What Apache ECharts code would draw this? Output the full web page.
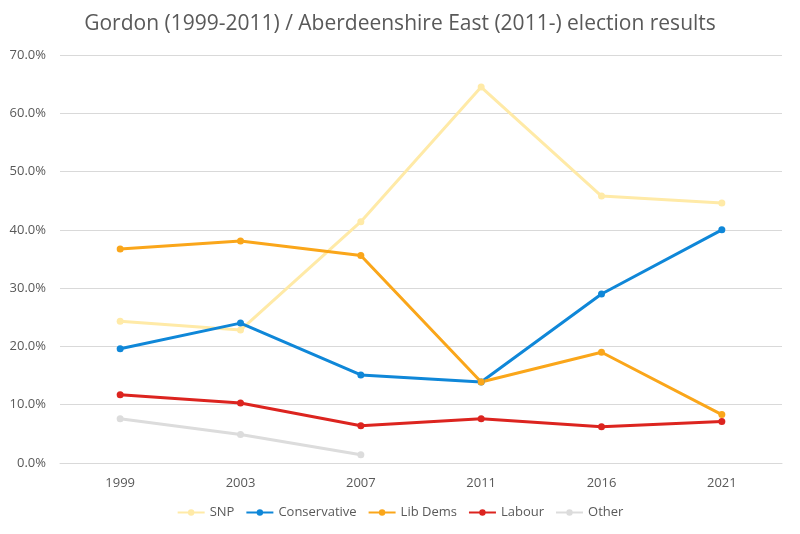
<!DOCTYPE html>
<html><head><meta charset="utf-8">
<script src="https://cdn.jsdelivr.net/npm/echarts@6/dist/echarts.min.js"></script>
<style>html,body{margin:0;padding:0;background:#fff}#c{width:800px;height:534px}</style>
</head><body><div id="c"></div>
<script>
const years = ['1999','2003','2007','2011','2016','2021'];
const snp = [24.3, 22.8, 41.4, 64.5, 45.8, 44.6];
const conservative = [19.6, 24.0, 15.1, 13.9, 29.0, 40.0];
const libDems = [36.7, 38.1, 35.6, 13.9, 19.0, 8.3];
const labour = [11.7, 10.3, 6.4, 7.6, 6.2, 7.1];
const other = [7.6, 4.9, 1.4, null, null, null];
const yTicks = [0, 10, 20, 30, 40, 50, 60, 70];

const font = '"Open Sans", "Liberation Sans", sans-serif';
function s(name, data, color) {
  return {name, type:'line', data, color, symbol:'circle', symbolSize:7,
    lineStyle:{width:3, color}, itemStyle:{color}, connectNulls:false};
}
const chart = echarts.init(document.getElementById('c'));
chart.setOption({
  animation:false,
  textStyle:{fontFamily:font},
  title:{text:'Gordon (1999-2011) / Aberdeenshire East (2011-) election results', left:'center', top:9,
    textStyle:{fontFamily:font, fontSize:21, fontWeight:'normal', color:'#595959'}},
  legend:{bottom:10, itemWidth:27, itemHeight:8, itemGap:11,
    textStyle:{fontFamily:font, fontSize:13, color:'#595959'},
    data:['SNP','Conservative','Lib Dems','Labour','Other']},
  grid:{left:60, right:18, top:55, bottom:71},
  xAxis:{type:'category', data:years, boundaryGap:true,
    axisLine:{lineStyle:{color:'#d9d9d9'}}, axisTick:{show:false},
    axisLabel:{color:'#595959', fontSize:13, margin:14}},
  yAxis:{type:'value', min:yTicks[0], max:yTicks[yTicks.length-1], interval:10,
    axisLine:{show:false}, axisTick:{show:false},
    splitLine:{lineStyle:{color:'#d9d9d9'}},
    axisLabel:{color:'#595959', fontSize:13, margin:14, formatter:v=>v.toFixed(1)+'%'}},
  series:[
    s('SNP', snp, '#ffeaa7'),
    s('Conservative', conservative, '#0f87d8'),
    s('Lib Dems', libDems, '#faa61a'),
    s('Labour', labour, '#dc241f'),
    s('Other', other, '#dcdcdc')
  ]
});
</script></body></html>
